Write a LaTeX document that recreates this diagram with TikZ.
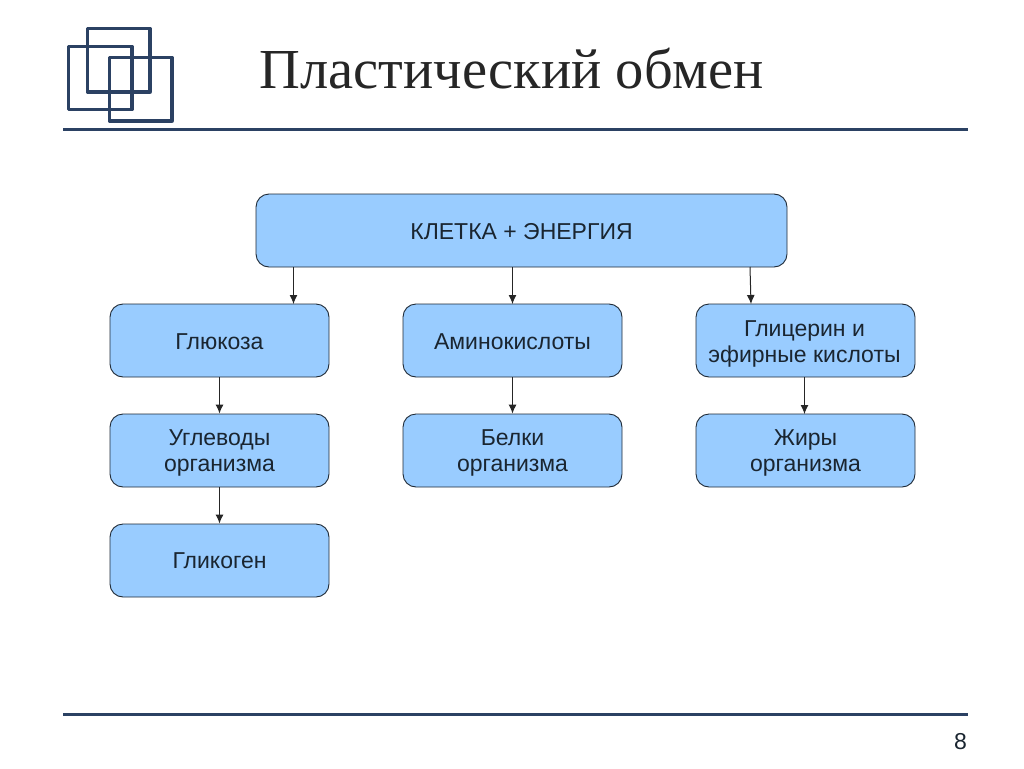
\documentclass[tikz,border=0pt]{standalone}
\usepackage{fontspec}
\setmainfont{Liberation Sans}
\newfontfamily\titlefont{Liberation Serif}
\definecolor{navy}{HTML}{2B4163}
\definecolor{boxfill}{HTML}{99CCFF}
\definecolor{boxline}{HTML}{1F2A36}
\definecolor{inktext}{HTML}{1A2530}
\usetikzlibrary{arrows.meta}
\newcommand{\pushdown}[1]{\rule{0pt}{#1}}
\tikzset{
  x=1pt,y=-1pt,
  flowbox/.style={draw=boxline,fill=boxfill,rounded corners=13pt,line width=0.9pt,
    minimum width=219pt,minimum height=73pt,inner sep=0pt,align=center,text=inktext,
    font=\fontsize{23}{26.5}\selectfont},
  deco/.style={draw=navy,line width=3.3pt,line join=round},
  rulebar/.style={draw=navy,line width=3.8pt},
  link/.style={draw=black!85,line width=1pt,-{Latex[length=9pt,width=8pt]}}
}
\begin{document}
\begin{tikzpicture}
\useasboundingbox (0,0) rectangle (1024,768);
\fill[white] (0,0) rectangle (1024,768);
% logo squares
\draw[deco] (87.5,28.5) rectangle (150,92);
\draw[deco] (68.5,46.5) rectangle (132,109.5);
\draw[deco] (109.5,57.5) rectangle (172,121);
% rules
\coordinate (r1a) at (63,129.5); \coordinate (r1b) at (968,129.5);
\coordinate (r2a) at (63,714.5); \coordinate (r2b) at (968,714.5);
\draw[rulebar] (r1a) -- (r1b);
\draw[rulebar] (r2a) -- (r2b);
% title and page number
\node[anchor=center,inner sep=0pt,text=black!85] (title) at (511.5,68.5) {\titlefont\fontsize{56.5}{62}\selectfont Пластический обмен};
\node[anchor=center,inner sep=0pt,text=inktext] (page) at (960.5,742) {\fontsize{23}{26}\selectfont 8};
% boxes
\node[flowbox,minimum width=531pt] (top) at (521.5,230.5) {\pushdown{19pt}КЛЕТКА + ЭНЕРГИЯ};
\node[flowbox] (gluc) at (219.5,340.5) {\pushdown{18pt}Глюкоза};
\node[flowbox] (amino) at (512.5,340.5) {\pushdown{18pt}Аминокислоты};
\node[flowbox] (glyc) at (805.5,340.5) {\pushdown{23pt}\hspace*{-2pt}Глицерин и\\\hspace*{-2pt}эфирные кислоты};
\node[flowbox] (carb) at (219.5,450.5) {\pushdown{21pt}Углеводы\\организма};
\node[flowbox] (prot) at (512.5,450.5) {\pushdown{21pt}Белки\\организма};
\node[flowbox] (fat) at (805.5,450.5) {\pushdown{21pt}Жиры\\организма};
\node[flowbox] (glyk) at (219.5,560.5) {Гликоген};
% connectors
\coordinate (t1) at (293.5,267); \coordinate (g1) at (293.5,304);
\coordinate (t2) at (512.5,267); \coordinate (g2) at (512.5,304);
\coordinate (t3) at (750,267);   \coordinate (g3) at (751,304);
\coordinate (f1) at (804.5,377); \coordinate (f2) at (804.5,414);
\draw[link] (t1) -- (g1);
\draw[link] (t2) -- (g2);
\draw[link] (t3) -- (g3);
\draw[link] (gluc) -- (carb);
\draw[link] (carb) -- (glyk);
\draw[link] (amino) -- (prot);
\draw[link] (f1) -- (f2);
\end{tikzpicture}
\end{document}
